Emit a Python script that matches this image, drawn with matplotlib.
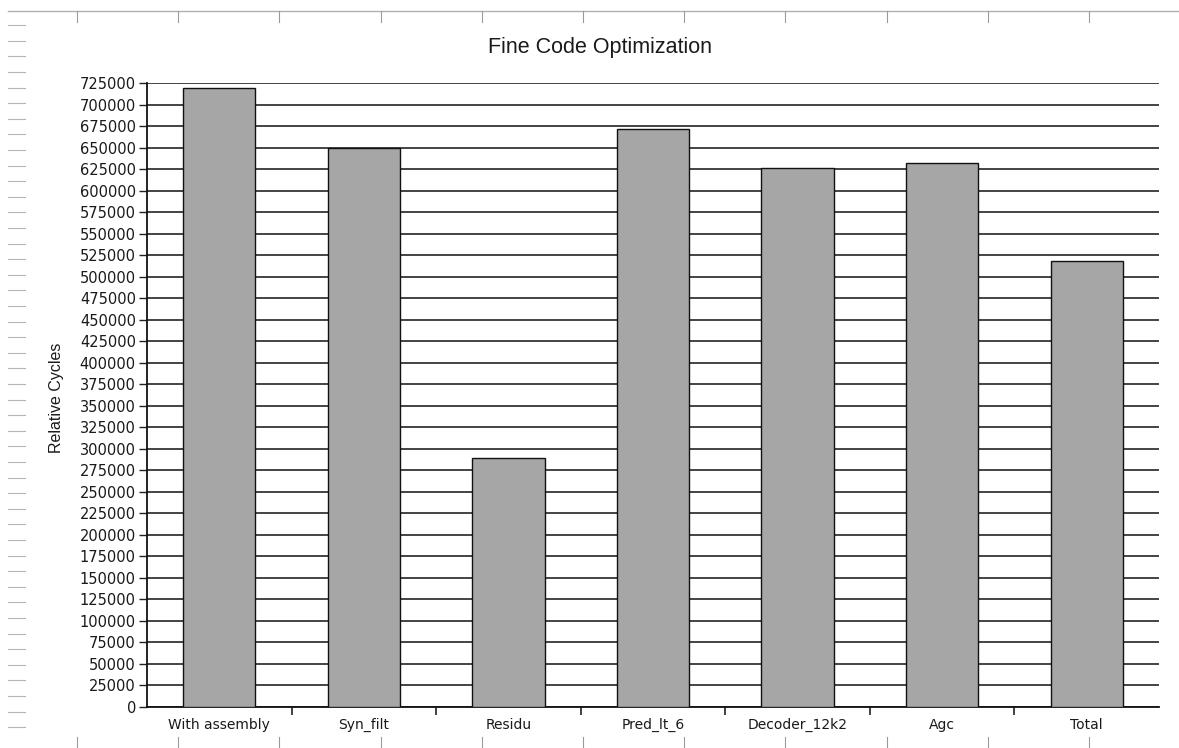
import matplotlib
matplotlib.use("Agg")
import matplotlib.pyplot as plt
from matplotlib.lines import Line2D
from matplotlib.ticker import MultipleLocator, NullFormatter, FixedLocator, FuncFormatter
import numpy as np

# Cycle counts per optimisation step
categories = ["With assembly", "Syn_filt", "Residu", "Pred_lt_6",
              "Decoder_12k2", "Agc", "Total"]
cycles = [720000, 650000, 290000, 672000, 626500, 632500, 518000]

title = "Fine Code Optimization"
ylabel = "Relative Cycles"
y_max = 725000
y_step = 25000

W, H = 1179, 748
fig = plt.figure(figsize=(W / 100, H / 100), dpi=100)
fig.patch.set_facecolor("white")

ax = fig.add_axes([147 / W, 1 - 707 / H, (1159 - 147) / W, (707 - 83.3) / H])

x = np.arange(len(categories))
ax.set_axisbelow(True)
ax.bar(x, cycles, width=0.5, color="#a6a6a6", edgecolor="#111111",
       linewidth=1.0, zorder=3)

ax.set_xlim(-0.5, len(categories) - 0.5)
ax.set_ylim(0, y_max)

# horizontal grid every 25000
ax.yaxis.set_major_locator(MultipleLocator(y_step))
ax.yaxis.set_major_formatter(FuncFormatter(lambda v, p: f"{int(v)}"))
ax.grid(axis="y", color="#111111", linewidth=1.1)

# category labels centred, tick marks at category boundaries
ax.set_xticks(x)
ax.set_xticklabels(categories)
ax.tick_params(axis="x", which="major", length=0, pad=8, labelsize=10,
               labelcolor="#1a1a1a")
ax.xaxis.set_minor_locator(FixedLocator(np.arange(0.5, len(categories) - 1, 1.0)))
ax.xaxis.set_minor_formatter(NullFormatter())
ax.tick_params(axis="x", which="minor", length=6, width=1.2, color="#222222")
ax.tick_params(axis="y", length=6, width=1.0, color="#222222", pad=2,
               labelsize=10.5, labelcolor="#1a1a1a")

for side in ("top", "right"):
    ax.spines[side].set_visible(False)
for side in ("left", "bottom"):
    ax.spines[side].set_color("#111111")
    ax.spines[side].set_linewidth(1.3)

fig.text(600 / W, 1 - 47 / H, title, ha="center", va="center",
         fontsize=15.5, family="Liberation Sans", color="#1a1a1a")
fig.text(57 / W, 1 - 398 / H, ylabel, ha="center", va="center", rotation=90,
         fontsize=11.5, family=["Liberation Sans Narrow", "Liberation Sans"],
         color="#1a1a1a")

# page ruler around the chart
ruler = "#9a9a9a"
fig.add_artist(Line2D([8 / W, 1], [1 - 11 / H, 1 - 11 / H],
                      transform=fig.transFigure, color="#b0b0b0", lw=1.0))
for k in range(11):
    xp = (77 + 101.2 * k) / W
    fig.add_artist(Line2D([xp, xp], [1 - 11 / H, 1 - 22 / H],
                          transform=fig.transFigure, color=ruler, lw=0.8))
    fig.add_artist(Line2D([xp, xp], [1 - 737 / H, 0],
                          transform=fig.transFigure, color=ruler, lw=0.8))
for k in range(46):
    yp = 1 - (25.2 + 15.6 * k) / H
    fig.add_artist(Line2D([8 / W, 25 / W], [yp, yp],
                          transform=fig.transFigure, color="#b5b5b5", lw=0.8))

fig.savefig("out.png", dpi=100, facecolor="white")
